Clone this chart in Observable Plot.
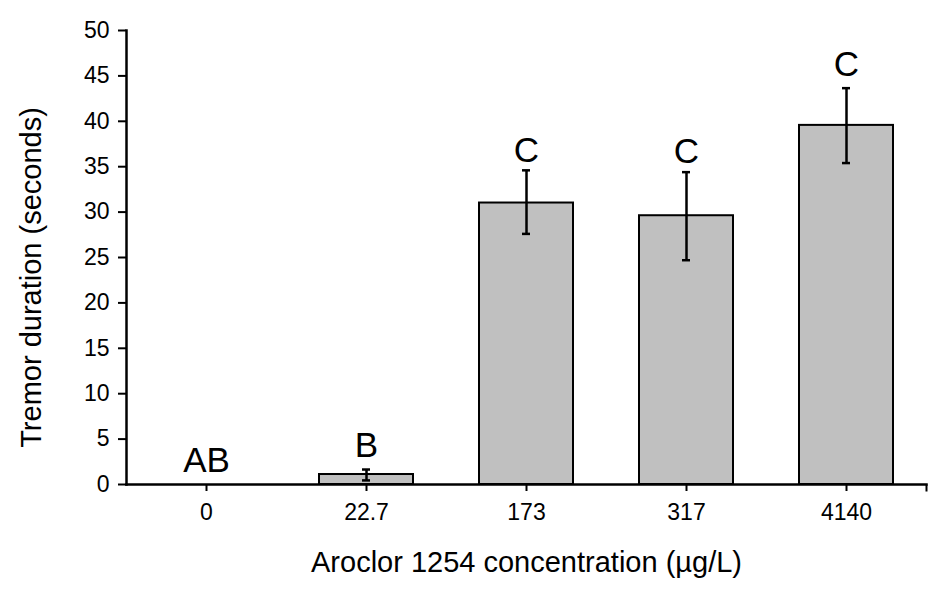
<!DOCTYPE html>
<html>
<head>
<meta charset="utf-8">
<script src="https://cdn.jsdelivr.net/npm/d3@7"></script>
<script src="https://cdn.jsdelivr.net/npm/@observablehq/plot@0.6"></script>
<style>
  html, body { margin: 0; padding: 0; background: #fff; }
  svg { display: block; }
</style>
</head>
<body>
<div id="chart"></div>
<script>
const categories = ["0", "22.7", "173", "317", "4140"];
const means = [0, 1.1, 31.0, 29.6, 39.55];
const errLow = [null, 0.45, 27.6, 24.7, 35.4];
const errHigh = [null, 1.65, 34.6, 34.4, 43.65];
const letters = ["AB", "B", "C", "C", "C"];
const letterY = [1.35, 3.0, 35.5, 35.4, 45.0];
const yTicks = [0, 5, 10, 15, 20, 25, 30, 35, 40, 45, 50];

const data = categories.map((c, i) => ({
  cat: c, mean: means[i], lo: errLow[i], hi: errHigh[i], letter: letters[i], ly: letterY[i]
}));
const errData = data.filter(d => d.lo != null);

const font = "'Liberation Sans', Arial, sans-serif";
const endTick = { draw(ctx) { ctx.moveTo(0, 0); ctx.lineTo(0, 7); } };

const chart = Plot.plot({
  width: 952,
  height: 593,
  marginLeft: 126,
  marginRight: 26,
  marginTop: 30,
  marginBottom: 109,
  style: { fontFamily: font, fontSize: "23px", background: "#fff", color: "#000" },
  x: { domain: categories, paddingInner: 0.41, paddingOuter: 0.205, label: null },
  y: { domain: [0, 50], label: null },
  marks: [
    Plot.barY(data, { x: "cat", y: "mean", fill: "#c0c0c0", stroke: "#000", strokeWidth: 2 }),
    Plot.ruleX(errData, { x: "cat", y1: "lo", y2: "hi", stroke: "#000", strokeWidth: 2.5 }),
    Plot.tickY(errData, { x: "cat", y: "lo", stroke: "#000", strokeWidth: 2.5, insetLeft: 43, insetRight: 43 }),
    Plot.tickY(errData, { x: "cat", y: "hi", stroke: "#000", strokeWidth: 2.5, insetLeft: 43, insetRight: 43 }),
    Plot.text(data, { x: "cat", y: "ly", text: "letter", fontSize: 35, lineAnchor: "bottom", fill: "#000" }),
    Plot.frame({ anchor: "left", stroke: "#000", strokeWidth: 2.5 }),
    Plot.frame({ anchor: "bottom", stroke: "#000", strokeWidth: 2.5 }),
    Plot.dot([0], { frameAnchor: "bottom-right", symbol: endTick, stroke: "#000", strokeWidth: 2, fill: "none" }),
    Plot.axisY({ ticks: yTicks, tickSize: 8, tickPadding: 9, fontSize: 23, strokeWidth: 2, label: null, tickFormat: d => String(d) }),
    Plot.axisX({ tickSize: 7, tickPadding: 12, fontSize: 23, strokeWidth: 2, label: null }),
    Plot.text(["Aroclor 1254 concentration (µg/L)"], { frameAnchor: "bottom", dy: 78, fontSize: 29, textAnchor: "middle", lineAnchor: "middle", fill: "#000" }),
    Plot.text(["Tremor duration (seconds)"], { frameAnchor: "left", dx: -95, dy: 20, rotate: -90, fontSize: 29, textAnchor: "middle", lineAnchor: "middle", fill: "#000" })
  ]
});
document.getElementById("chart").appendChild(chart);
</script>
</body>
</html>
